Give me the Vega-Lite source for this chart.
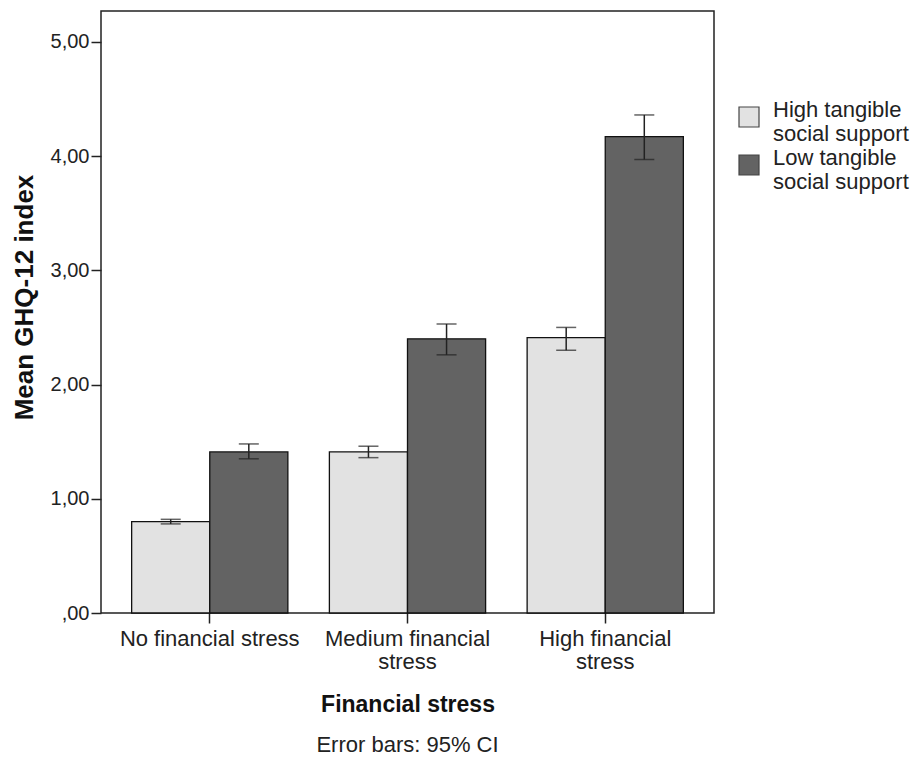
{
  "$schema": "https://vega.github.io/schema/vega-lite/v6.json",
  "autosize": {"type": "none"},
  "width": 613,
  "height": 602,
  "padding": {"left": 101, "top": 11, "right": 200, "bottom": 150},
  "background": "white",
  "config": {
    "font": "Liberation Sans",
    "view": {"stroke": "#222222", "strokeWidth": 1.5},
    "axis": {"grid": false, "domain": false, "tickColor": "#222222", "labelColor": "#222222", "titleColor": "#111111"}
  },
  "title": {
    "text": "Error bars: 95% CI",
    "orient": "bottom",
    "anchor": "middle",
    "fontSize": 22,
    "fontWeight": "normal",
    "color": "#222222",
    "offset": 19
  },
  "data": {
    "values": [
      {"stress": "No financial stress", "support": "High tangible social support", "mean": 0.80, "lo": 0.78, "hi": 0.82},
      {"stress": "No financial stress", "support": "Low tangible social support", "mean": 1.41, "lo": 1.35, "hi": 1.48},
      {"stress": "Medium financial stress", "support": "High tangible social support", "mean": 1.41, "lo": 1.36, "hi": 1.46},
      {"stress": "Medium financial stress", "support": "Low tangible social support", "mean": 2.40, "lo": 2.26, "hi": 2.53},
      {"stress": "High financial stress", "support": "High tangible social support", "mean": 2.41, "lo": 2.30, "hi": 2.50},
      {"stress": "High financial stress", "support": "Low tangible social support", "mean": 4.17, "lo": 3.97, "hi": 4.36}
    ]
  },
  "encoding": {
    "x": {
      "field": "stress",
      "type": "nominal",
      "sort": ["No financial stress", "Medium financial stress", "High financial stress"],
      "scale": {"paddingInner": 0.21, "paddingOuter": 0.155},
      "axis": {
        "title": "Financial stress",
        "titleFontSize": 23,
        "titleFontWeight": "bold",
        "titlePadding": 21,
        "labelFontSize": 22,
        "labelAngle": 0,
        "tickSize": 10,
        "tickWidth": 1.5,
        "labelPadding": 5,
        "labelLineHeight": 23,
        "labelLimit": 300,
        "labelExpr": "datum.label == 'Medium financial stress' ? ['Medium financial', 'stress'] : datum.label == 'High financial stress' ? ['High financial', 'stress'] : datum.label"
      }
    },
    "xOffset": {
      "field": "support",
      "type": "nominal",
      "scale": {"paddingInner": 0, "paddingOuter": 0}
    }
  },
  "layer": [
    {
      "mark": {"type": "bar", "stroke": "#111111", "strokeWidth": 1.3},
      "encoding": {
        "y": {
          "field": "mean",
          "type": "quantitative",
          "scale": {"domain": [0, 5.27], "nice": false},
          "axis": {
            "title": "Mean GHQ-12 index",
            "titleFontSize": 26,
            "titleFontWeight": "bold",
            "titlePadding": 13,
            "titleY": 286,
            "values": [0, 1, 2, 3, 4, 5],
            "labelFontSize": 20,
            "tickSize": 10,
            "tickWidth": 1.5,
            "labelPadding": 2,
            "labelExpr": "datum.value == 0 ? ',00' : replace(format(datum.value, '.2f'), '.', ',')"
          }
        },
        "fill": {
          "field": "support",
          "type": "nominal",
          "scale": {"range": ["#e2e2e2", "#636363"]},
          "legend": {
            "title": null,
            "orient": "none",
            "legendX": 637,
            "legendY": 95,
            "symbolType": "square",
            "symbolSize": 400,
            "symbolStrokeColor": "#444444",
            "symbolStrokeWidth": 1.2,
            "labelFontSize": 22,
            "labelLineHeight": 22,
            "labelBaseline": "alphabetic",
            "labelColor": "#222222",
            "labelOffset": 13,
            "rowPadding": 2,
            "labelLimit": 300,
            "labelExpr": "split(datum.label, ' tangible ')[0] == 'High' ? ['High tangible', 'social support'] : ['Low tangible', 'social support']"
          }
        }
      }
    },
    {
      "mark": {"type": "rule", "color": "#222222", "strokeWidth": 1.5},
      "encoding": {
        "y": {"field": "lo", "type": "quantitative"},
        "y2": {"field": "hi"}
      }
    },
    {
      "mark": {"type": "tick", "color": "#222222", "thickness": 1.5, "size": 20},
      "encoding": {
        "y": {"field": "lo", "type": "quantitative"}
      }
    },
    {
      "mark": {"type": "tick", "color": "#222222", "thickness": 1.5, "size": 20},
      "encoding": {
        "y": {"field": "hi", "type": "quantitative"}
      }
    }
  ]
}
